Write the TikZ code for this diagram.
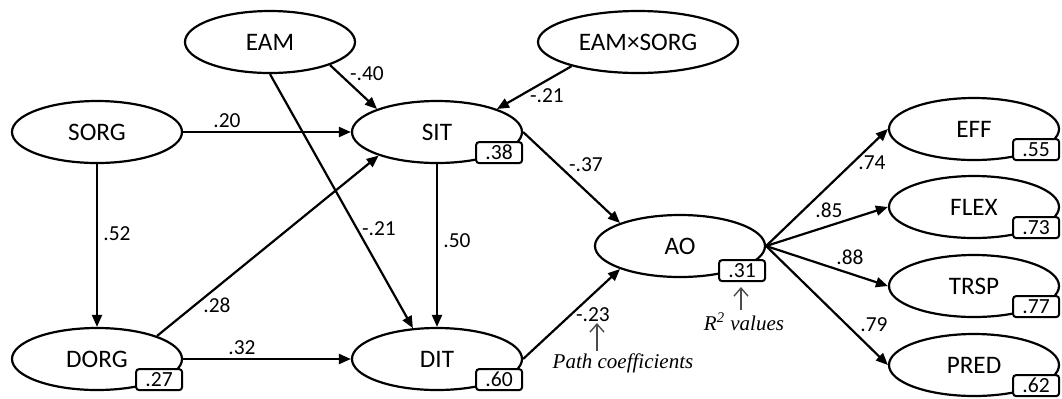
\documentclass[tikz,border=0pt]{standalone}
\usepackage{fontspec}
\setmainfont{Carlito}
\newfontfamily\notefont{Liberation Serif}
\usetikzlibrary{arrows.meta,shapes.geometric}

\begin{document}
\begin{tikzpicture}[x=0.5pt,y=0.5pt,
  latent/.style={draw, ellipse, line width=1.1pt, minimum width=85pt, minimum height=31pt, inner sep=2pt, font=\fontsize{12.6}{14}\selectfont},
  rsq/.style={draw, fill=white, rounded corners=1.5pt, line width=1pt, minimum width=23pt, minimum height=10.5pt, inner sep=0.5pt, anchor=south east, font=\fontsize{10.8}{12}\selectfont},
  coef/.style={inner sep=0pt, font=\fontsize{10.7}{12}\selectfont},
  effect/.style={line width=1.1pt, -{Triangle[length=6pt,width=5pt]}},
  note/.style={inner sep=1pt, anchor=base, font=\notefont\itshape\fontsize{10.5}{12}\selectfont},
  pointer/.style={draw=black!70, line width=0.7pt, -{Straight Barb[length=4pt,width=7pt]}}]
\useasboundingbox (0,0) rectangle (1062,-398);
\node[latent] (eam) at (270,-42) {EAM};
\node[latent, minimum width=100pt] (eamxsorg) at (638,-42) {EAM×SORG};
\node[latent] (sorg) at (97,-132) {SORG};
\node[latent] (sit) at (437,-132) {SIT};
\node[latent] (dorg) at (97,-359) {DORG};
\node[latent] (dit) at (437,-359) {DIT};
\node[latent] (ao) at (680,-246) {AO};
\node[latent] (eff) at (974,-129) {EFF};
\node[latent] (flex) at (974,-207) {FLEX};
\node[latent] (trsp) at (974,-286) {TRSP};
\node[latent] (pred) at (974,-365) {PRED};
% structural paths
\draw[effect] (sorg) -- (sit);
\draw[effect] (sorg) -- (dorg);
\draw[effect] (dorg) -- (dit);
\draw[effect] (dorg.21) -- (sit.202);
\draw[effect] (eam.-21) -- (sit.159);
\draw[effect] (eam.south) -- (dit.128);
\draw[effect] (eamxsorg.200) -- (sit.21);
\draw[effect] (sit) -- (dit);
\draw[effect] (sit.east) -- (ao.159);
\draw[effect] (dit.east) -- (ao.201);
\foreach \dim in {eff,flex,trsp,pred}
  \draw[effect] (ao.east) -- (\dim.west);
% path coefficients
\node[coef] (c-sorg-sit) at (227,-121) {.20};
\node[coef] (c-sorg-dorg) at (117,-234) {.52};
\node[coef] (c-dorg-sit) at (217,-305) {.28};
\node[coef] (c-dorg-dit) at (242,-348) {.32};
\node[coef] (c-eam-sit) at (367,-74) {-.40};
\node[coef] (c-int-sit) at (547,-96) {-.21};
\node[coef] (c-eam-dit) at (379,-229) {-.21};
\node[coef] (c-sit-dit) at (457,-241) {.50};
\node[coef] (c-sit-ao) at (586,-165) {-.37};
\node[coef] (c-dit-ao) at (593,-315) {-.23};
\node[coef] (c-eff) at (872,-163) {.74};
\node[coef] (c-flex) at (829,-210) {.85};
\node[coef] (c-trsp) at (850,-257) {.88};
\node[coef] (c-pred) at (874,-325) {.79};
% R2 values
\node[rsq] (r-sit) at (sit.east |- sit.south) {.38};
\node[rsq] (r-dorg) at (dorg.east |- dorg.south) {.27};
\node[rsq] (r-dit) at (dit.east |- dit.south) {.60};
\node[rsq, yshift=-2pt] (r-ao) at (ao.east |- ao.south) {.31};
\node[rsq] (r-eff) at (eff.east |- eff.south) {.55};
\node[rsq] (r-flex) at (flex.east |- flex.south) {.73};
\node[rsq] (r-trsp) at (trsp.east |- trsp.south) {.77};
\node[rsq] (r-pred) at (pred.east |- pred.south) {.62};
% legend notes
\node[note] (pathnote) at (623,-368) {Path coefficients};
\coordinate (pathtip) at (597,-323);
\draw[pointer] (pathnote.north -| pathtip) -- (pathtip);
\node[note] (r2note) at (744,-330) {R\textsuperscript{2} values};
\coordinate (r2tip) at (741,-287);
\draw[pointer] (r2note.north -| r2tip) -- (r2tip);
\end{tikzpicture}
\end{document}
